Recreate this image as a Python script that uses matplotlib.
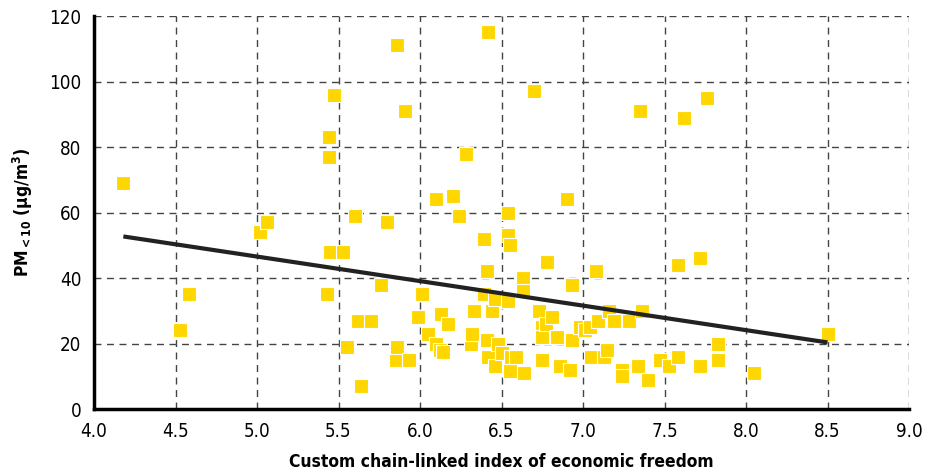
import matplotlib
matplotlib.use("Agg")
import matplotlib.pyplot as plt
import numpy as np

# Índice de liberdade económica (x) vs PM<10 (y)
freedom_index = [
    4.18, 4.53, 4.58, 5.02, 5.06, 5.43, 5.44, 5.44, 5.45, 5.47,
    5.53, 5.55, 5.60, 5.62, 5.64, 5.70, 5.76, 5.80, 5.85, 5.86,
    5.86, 5.91, 5.93, 5.99, 6.01, 6.05, 6.10, 6.10, 6.12, 6.13,
    6.14, 6.17, 6.20, 6.24, 6.28, 6.31, 6.32, 6.33, 6.39, 6.39,
    6.41, 6.41, 6.42, 6.42, 6.44, 6.46, 6.46, 6.48, 6.50, 6.54,
    6.54, 6.55, 6.54, 6.55, 6.56, 6.59, 6.63, 6.63, 6.64, 6.70,
    6.73, 6.75, 6.75, 6.75, 6.77, 6.78, 6.81, 6.84, 6.86, 6.90,
    6.92, 6.93, 6.93, 6.98, 7.01, 7.04, 7.05, 7.08, 7.09, 7.13,
    7.15, 7.16, 7.19, 7.24, 7.24, 7.28, 7.34, 7.35, 7.36, 7.40,
    7.47, 7.53, 7.58, 7.58, 7.62, 7.72, 7.72, 7.76, 7.83, 7.83,
    8.05, 8.50,
]
pm10 = [
    69, 24, 35, 54, 57, 35, 83, 77, 48, 96,
    48, 19, 59, 27, 7, 27, 38, 57, 15, 19,
    111, 91, 15, 28, 35, 23, 64, 20, 18, 29,
    17.5, 26, 65, 59, 78, 20, 23, 30, 52, 35,
    42, 21, 16, 115, 30, 33.5, 13, 20, 17, 60,
    53, 50, 33, 11.5, 16, 16, 40, 36, 11, 97,
    30, 25, 22, 15, 26, 45, 28, 22, 13, 64,
    12, 38, 21, 25, 24, 25, 16, 42, 27, 16,
    18, 30, 27, 12, 10, 27, 13, 91, 30, 9,
    15, 13, 16, 44, 89, 46, 13, 95, 20, 15,
    11, 23,
]

# Reta de tendência (declive e ordenada na origem)
trend_slope = -7.49
trend_intercept = 84.0

x_ticks = [4.0, 4.5, 5.0, 5.5, 6.0, 6.5, 7.0, 7.5, 8.0, 8.5, 9.0]
y_ticks = [0, 20, 40, 60, 80, 100, 120]

plt.rcParams['font.family'] = ['DejaVu Sans']
plt.rcParams['font.stretch'] = 'condensed'
plt.rcParams['mathtext.fontset'] = 'custom'
plt.rcParams['mathtext.rm'] = 'DejaVu Sans:bold'
plt.rcParams['mathtext.bf'] = 'DejaVu Sans:bold'

fig = plt.figure(figsize=(9.29, 4.71), dpi=100)
ax = fig.add_axes([0.1012, 0.1316, 0.8773, 0.8344])

# Grelha tracejada (inclui as linhas de 120 e 9.0 que fecham a caixa)
ax.grid(True, color='#444444', linestyle=(0, (5, 4)), linewidth=1.0)
ax.set_axisbelow(True)

ax.scatter(freedom_index, pm10, marker='s', s=100, color='#FFD700',
           edgecolors='white', linewidths=0.8, zorder=3)

xs = np.array([min(freedom_index), max(freedom_index)])
ax.plot(xs, trend_slope * xs + trend_intercept, color='#222222',
        linewidth=3.0, zorder=4, solid_capstyle='butt')

ax.set_xlim(4.0, 9.0)
ax.set_ylim(0, 120)
ax.set_xticks(x_ticks)
ax.set_xticklabels([f'{v:.1f}' for v in x_ticks])
ax.set_yticks(y_ticks)
ax.tick_params(length=0, labelsize=13.5, pad=9)

for side in ('top', 'right'):
    ax.spines[side].set_visible(False)
for side in ('left', 'bottom'):
    ax.spines[side].set_linewidth(2.5)
    ax.spines[side].set_color('black')
    ax.spines[side].set_zorder(5)

ax.set_xlabel('Custom chain-linked index of economic freedom',
              fontsize=12.5, fontweight='bold', labelpad=9)
ax.set_ylabel(r'PM$_{<10}$ (µg/m$^{3}$)', fontsize=12.5,
              fontweight='bold', labelpad=10)

fig.savefig('out.png', dpi=100)
plt.close(fig)
